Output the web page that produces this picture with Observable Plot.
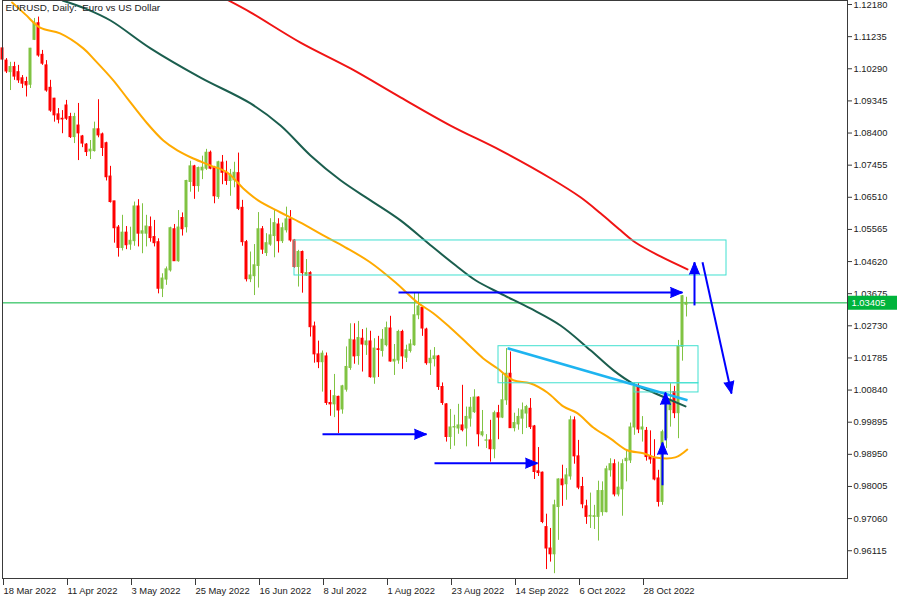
<!DOCTYPE html>
<html><head><meta charset="utf-8">
<script src="https://cdn.jsdelivr.net/npm/d3@7"></script>
<script src="https://cdn.jsdelivr.net/npm/@observablehq/plot@0.6"></script>
<style>
body{margin:0;background:#fff;}
#chart{width:900px;height:600px;}
</style></head><body><div id="chart"></div>
<script>
// ---- data (daily EUR/USD candles, index 0 = 18 Mar 2022) ----
const open=[
1.1089,1.1053,1.1019,1.1034,1.1019,1.1001,1.0990,1.0982,1.1114,1.1163,
1.1070,1.1039,1.0973,1.0941,1.0895,1.0882,1.0921,1.0887,1.0828,1.0862,
1.0830,1.0806,1.0786,1.0787,1.0851,1.0836,1.0810,1.0712,1.0639,1.0562,
1.0502,1.0547,1.0512,1.0522,1.0624,1.0544,1.0544,1.0563,1.0534,1.0519,
1.0382,1.0409,1.0436,1.0557,1.0463,1.0590,1.0563,1.0696,1.0742,1.0684,
1.0730,1.0735,1.0782,1.0738,1.0652,1.0753,1.0723,1.0699,1.0701,1.0722,
1.0620,1.0519,1.0410,1.0419,1.0449,1.0557,1.0487,1.0512,1.0537,1.0571,
1.0522,1.0554,1.0586,1.0524,1.0446,1.0490,1.0421,1.0428,1.0271,1.0189,
1.0166,1.0183,1.0046,1.0042,1.0064,1.0027,1.0085,1.0149,1.0230,1.0184,
1.0235,1.0216,1.0227,1.0121,1.0204,1.0199,1.0216,1.0265,1.0168,1.0171,
1.0255,1.0179,1.0199,1.0216,1.0304,1.0326,1.0262,1.0163,1.0175,1.0183,
1.0093,1.0042,0.9946,0.9974,0.9971,0.9980,0.9971,1.0000,1.0019,1.0062,
0.9951,0.9935,0.9936,0.9910,1.0016,1.0003,1.0054,1.0132,0.9972,0.9983,
1.0000,1.0015,1.0029,0.9977,0.9845,0.9841,0.9681,0.9618,0.9601,0.9740,
0.9821,0.9807,0.9830,0.9995,0.9889,0.9799,0.9742,0.9712,0.9711,0.9711,
0.9725,0.9725,0.9848,0.9866,0.9777,0.9792,0.9875,0.9877,0.9974,1.0093,
0.9968,0.9964,0.9889,0.9882,0.9824,0.9755,0.9942,1.0025,1.0078,1.0016,
1.0211,1.0335];
const high=[
1.1093,1.1059,1.1048,1.1048,1.1039,1.1009,1.1004,1.1089,1.1177,1.1181,
1.1083,1.1053,1.0995,1.0942,1.0912,1.0906,1.0936,1.0898,1.0898,1.0927,
1.0833,1.0809,1.0818,1.0872,1.0938,1.0840,1.0813,1.0742,1.0639,1.0568,
1.0598,1.0565,1.0563,1.0637,1.0644,1.0632,1.0598,1.0593,1.0583,1.0529,
1.0426,1.0446,1.0563,1.0571,1.0612,1.0605,1.0701,1.0757,1.0745,1.0740,
1.0772,1.0792,1.0787,1.0742,1.0757,1.0774,1.0757,1.0733,1.0754,1.0781,
1.0642,1.0524,1.0490,1.0512,1.0606,1.0565,1.0544,1.0588,1.0615,1.0588,
1.0575,1.0622,1.0612,1.0527,1.0495,1.0493,1.0468,1.0432,1.0284,1.0228,
1.0199,1.0193,1.0083,1.0130,1.0066,1.0098,1.0211,1.0279,1.0279,1.0286,
1.0262,1.0266,1.0257,1.0235,1.0242,1.0262,1.0284,1.0301,1.0218,1.0260,
1.0260,1.0216,1.0232,1.0369,1.0369,1.0329,1.0266,1.0201,1.0209,1.0186,
1.0105,1.0044,1.0027,1.0010,1.0042,1.0098,1.0034,1.0062,1.0085,1.0064,
1.0024,0.9953,0.9995,1.0022,1.0039,1.0132,1.0206,1.0196,1.0016,1.0029,
1.0046,1.0039,1.0059,0.9980,0.9915,0.9843,0.9719,0.9677,0.9760,0.9823,
0.9863,0.9853,1.0007,1.0005,0.9936,0.9827,0.9760,0.9781,0.9745,0.9816,
0.9814,0.9860,0.9882,0.9879,0.9872,0.9879,0.9909,0.9987,1.0105,1.0103,
1.0006,0.9974,0.9964,0.9938,0.9848,0.9966,1.0073,1.0103,1.0095,1.0230,
1.0362,1.0357];
const low=[
1.1051,1.1015,1.0965,1.0995,1.0986,1.0971,1.0946,1.0971,1.1112,1.1063,
1.1039,1.0960,1.0901,1.0872,1.0867,1.0838,1.0877,1.0824,1.0809,1.0759,
1.0797,1.0771,1.0762,1.0784,1.0826,1.0771,1.0699,1.0634,1.0516,1.0475,
1.0493,1.0497,1.0495,1.0507,1.0505,1.0485,1.0505,1.0519,1.0505,1.0367,
1.0356,1.0392,1.0431,1.0463,1.0460,1.0537,1.0546,1.0666,1.0645,1.0666,
1.0703,1.0730,1.0732,1.0632,1.0645,1.0688,1.0686,1.0654,1.0679,1.0612,
1.0507,1.0402,1.0400,1.0362,1.0384,1.0483,1.0477,1.0507,1.0473,1.0487,
1.0515,1.0546,1.0519,1.0442,1.0387,1.0369,1.0418,1.0240,1.0163,1.0147,
1.0078,1.0039,1.0007,1.0003,0.9956,1.0013,1.0078,1.0142,1.0160,1.0157,
1.0137,1.0186,1.0119,1.0101,1.0121,1.0181,1.0211,1.0166,1.0127,1.0160,
1.0145,1.0165,1.0193,1.0213,1.0291,1.0242,1.0157,1.0127,1.0152,1.0083,
1.0039,0.9931,0.9909,0.9919,0.9954,0.9961,0.9917,0.9975,1.0015,0.9917,
0.9946,0.9912,0.9872,0.9882,0.9938,1.0000,1.0039,0.9971,0.9961,0.9966,
0.9953,0.9971,0.9968,0.9821,0.9830,0.9691,0.9556,0.9578,0.9544,0.9642,
0.9742,0.9760,0.9819,0.9866,0.9791,0.9735,0.9689,0.9677,0.9674,0.9640,
0.9713,0.9723,0.9828,0.9770,0.9770,0.9713,0.9814,0.9868,0.9951,0.9956,
0.9931,0.9875,0.9866,0.9817,0.9740,0.9745,0.9912,0.9975,1.0000,0.9941,
1.0169,1.0299];
const close=[
1.1056,1.1021,1.1034,1.1006,1.0995,1.0985,1.0980,1.1088,1.1163,1.1068,
1.1044,1.0965,1.0906,1.0892,1.0879,1.0880,1.0882,1.0828,1.0887,1.0839,
1.0809,1.0784,1.0791,1.0851,1.0833,1.0796,1.0710,1.0637,1.0560,1.0502,
1.0547,1.0510,1.0523,1.0624,1.0544,1.0551,1.0565,1.0531,1.0516,1.0382,
1.0412,1.0439,1.0560,1.0463,1.0562,1.0557,1.0699,1.0742,1.0684,1.0737,
1.0738,1.0782,1.0735,1.0654,1.0754,1.0723,1.0699,1.0718,1.0723,1.0617,
1.0519,1.0410,1.0421,1.0451,1.0557,1.0497,1.0516,1.0539,1.0575,1.0522,
1.0560,1.0586,1.0524,1.0446,1.0490,1.0428,1.0428,1.0269,1.0189,1.0166,
1.0191,1.0046,1.0042,1.0066,1.0024,1.0095,1.0152,1.0232,1.0183,1.0237,
1.0218,1.0227,1.0122,1.0206,1.0202,1.0232,1.0266,1.0168,1.0173,1.0255,
1.0183,1.0201,1.0218,1.0304,1.0330,1.0265,1.0163,1.0176,1.0183,1.0093,
1.0046,0.9946,0.9974,0.9975,0.9980,0.9966,1.0005,1.0032,1.0062,0.9954,
0.9960,0.9936,0.9910,1.0016,1.0003,1.0054,1.0132,0.9972,0.9987,1.0005,
1.0024,1.0034,0.9975,0.9843,0.9840,0.9696,0.9618,0.9601,0.9745,0.9821,
0.9804,0.9833,0.9995,0.9889,0.9797,0.9748,0.9711,0.9714,0.9713,0.9787,
0.9787,0.9851,0.9866,0.9777,0.9797,0.9866,0.9882,0.9974,1.0093,0.9968,
0.9974,0.9887,0.9880,0.9821,0.9755,0.9960,1.0039,1.0052,1.0016,1.0211,
1.0360,1.03405];

const xTickIdx=[0,16,32,48,64,80,96,112,128,144,160];
const xTickLabels=["18 Mar 2022","11 Apr 2022","3 May 2022","25 May 2022","16 Jun 2022","8 Jul 2022","1 Aug 2022","23 Aug 2022","14 Sep 2022","6 Oct 2022","28 Oct 2022"];
const yTicks=[1.12180,1.11235,1.10290,1.09345,1.08400,1.07455,1.06510,1.05565,1.04620,1.03675,1.02730,1.01785,1.00840,0.99895,0.98950,0.98005,0.97060,0.96115];
const lastPrice=1.03405;

// moving averages (bar index, price)
const maOrangeIdx=[2.4,5.7,9.4,14.4,20.2,23.2,27.7,31.2,36.2,40.2,43.7,47.7,51.9,56.2,60.2,63.9,69.4,74.4,80.2,85.7,91.9,98.2,103.7,107.7,111.9,116.2,120.2,123.7,127.7,131.9,136.2,140.2,143.7,147.7,151.9,156.2,160.2,163.2,168.2,171.2];
const maOrangeVal=[1.1224,1.1189,1.1150,1.1133,1.1089,1.1053,1.0995,1.0942,1.0868,1.0818,1.0789,1.0765,1.0745,1.0724,1.0677,1.0642,1.0607,1.0577,1.0539,1.0504,1.0460,1.0401,1.0342,1.0310,1.0268,1.0221,1.0177,1.0148,1.0113,1.0104,1.0077,1.0036,1.0016,0.9974,0.9942,0.9907,0.9898,0.9886,0.9886,0.9909];
const maTealIdx=[15,20.75,27,37,49.5,62,69.5,77,84.5,92,99.5,107,113.25,118.25,124.5,132,139.5,147,152.75,157.5,163.25,170.75];
const maTealVal=[1.1230,1.1206,1.1171,1.1089,1.1003,1.0927,1.0862,1.0774,1.0701,1.0642,1.0583,1.0510,1.0451,1.0407,1.0368,1.0324,1.0274,1.0201,1.0142,1.0104,1.0074,1.0036];
const maRedIdx=[56.5,62,74.5,87,99.5,112,124.5,137,144.5,149.5,154.5,158.25,164.5,171.25];
const maRedVal=[1.1230,1.1195,1.1106,1.1030,1.0945,1.0862,1.0789,1.0707,1.0651,1.0604,1.0554,1.0518,1.0477,1.0439];

// drawn objects
const zoneX1=[73,124,158], zoneX2=[181,174,174];
const zoneTop=[1.0524,1.0213,1.0104], zoneBottom=[1.0421,1.0104,1.0077];
const trendX=[126.25,171.25], trendY=[1.0207,1.0054];
const arrowX1=[99,80,108,165,165.75,173,175];
const arrowY1=[1.0371,0.9954,0.9869,0.9804,0.9936,1.0333,1.0460];
const arrowX2=[170,106,133.75,165,165.75,173,182.25];
const arrowY2=[1.0371,0.9954,0.9869,0.9930,1.0077,1.0460,1.0074];

// ---- chart ----
const W=900,H=600,mL=2,mR=53,mT=0,mB=22;
const xDomain=[0,211.25], yDomain=[0.95298,1.12298];
const UP="#80c342", DN="#ff0000", CUR="#00b43c";
const bars=open.map((o,i)=>({i,o,h:high[i],l:low[i],c:close[i],up:close[i]>=o}));
const ups=bars.filter(d=>d.up), dns=bars.filter(d=>!d.up);
const line=(idx,val)=>idx.map((x,k)=>({x,y:val[k]}));
const zones=zoneX1.map((x1,k)=>({x1,x2:zoneX2[k],y1:zoneTop[k],y2:zoneBottom[k]}));
const xs=Plot.scale({x:{type:"linear",domain:xDomain,range:[mL,W-mR]}});
const ys=Plot.scale({y:{type:"linear",domain:yDomain,range:[H-mB,mT]}});
const arrows=arrowX1.map((x1,k)=>{
  const dx=xs.apply(arrowX2[k])-xs.apply(x1), dy=ys.apply(arrowY2[k])-ys.apply(arrowY1[k]);
  return {x1,y1:arrowY1[k],x2:arrowX2[k],y2:arrowY2[k],rot:Math.atan2(dx,-dy)*180/Math.PI};
});
const fmt=d3.format(".5f");
// price tag placed in the right margin, beside the axis
const tagX1=xs.invert(W-mR+1), tagX2=xs.invert(W-3);

const chart=Plot.plot({
  width:W,height:H,marginLeft:mL,marginRight:mR,marginTop:mT,marginBottom:mB,
  x:{type:"linear",domain:xDomain,axis:null},
  y:{type:"linear",domain:yDomain,axis:null},
  style:{fontFamily:"'Liberation Sans', Arial, sans-serif",fontSize:"9.4px",color:"#222",background:"#fff"},
  marks:[
    Plot.ruleY([lastPrice],{stroke:CUR,strokeWidth:1}),
    Plot.ruleX(ups,{x:"i",y1:"l",y2:"h",stroke:UP,strokeWidth:1}),
    Plot.ruleX(dns,{x:"i",y1:"l",y2:"h",stroke:DN,strokeWidth:1}),
    Plot.rect(ups,{x1:d=>d.i-0.375,x2:d=>d.i+0.375,y1:"o",y2:"c",fill:UP,insetTop:-0.5,insetBottom:-0.5}),
    Plot.rect(dns,{x1:d=>d.i-0.375,x2:d=>d.i+0.375,y1:"o",y2:"c",fill:DN,insetTop:-0.5,insetBottom:-0.5}),
    Plot.line(line(maRedIdx,maRedVal),{x:"x",y:"y",stroke:"#f01414",strokeWidth:2,curve:"catmull-rom"}),
    Plot.line(line(maTealIdx,maTealVal),{x:"x",y:"y",stroke:"#1b5e4e",strokeWidth:2,curve:"catmull-rom"}),
    Plot.line(line(maOrangeIdx,maOrangeVal),{x:"x",y:"y",stroke:"#ffaa00",strokeWidth:2,curve:"catmull-rom"}),
    Plot.rect(zones,{x1:"x1",x2:"x2",y1:"y1",y2:"y2",fill:"none",stroke:"#40e0d0",strokeWidth:1}),
    Plot.link([{x1:trendX[0],y1:trendY[0],x2:trendX[1],y2:trendY[1]}],{x1:"x1",y1:"y1",x2:"x2",y2:"y2",stroke:"#1eb4f0",strokeWidth:2.5}),
    Plot.link(arrows,{x1:"x1",y1:"y1",x2:"x2",y2:"y2",stroke:"#0000ff",strokeWidth:2}),
    Plot.vector(arrows,{x:"x2",y:"y2",rotate:"rot",length:12,r:5,shape:"spike",anchor:"end",fill:"#0000ff",stroke:"#0000ff",strokeWidth:1}),
    Plot.frame({stroke:"#3a3a3a"}),
    Plot.axisY({anchor:"right",ticks:yTicks,tickFormat:fmt,tickSize:4,tickPadding:2,stroke:"#3a3a3a"}),
    Plot.axisX({ticks:xTickIdx,tickFormat:d=>xTickLabels[xTickIdx.indexOf(d)],tickSize:7,tickPadding:2,textAnchor:"start",dx:1,stroke:"#3a3a3a"}),
    Plot.ruleY([lastPrice],{x1:tagX1,x2:tagX2,stroke:CUR,strokeWidth:14}),
    Plot.text([lastPrice],{x:tagX1,y:d=>d,text:d=>fmt(d),textAnchor:"start",dx:3,fill:"#fff",fontSize:9.4}),
    Plot.text(["EURUSD, Daily:  Euro vs US Dollar"],{frameAnchor:"top-left",dx:3,dy:4,textAnchor:"start",lineAnchor:"top",fill:"#222",fontSize:9.8})
  ]
});
document.getElementById("chart").appendChild(chart);
</script></body></html>
